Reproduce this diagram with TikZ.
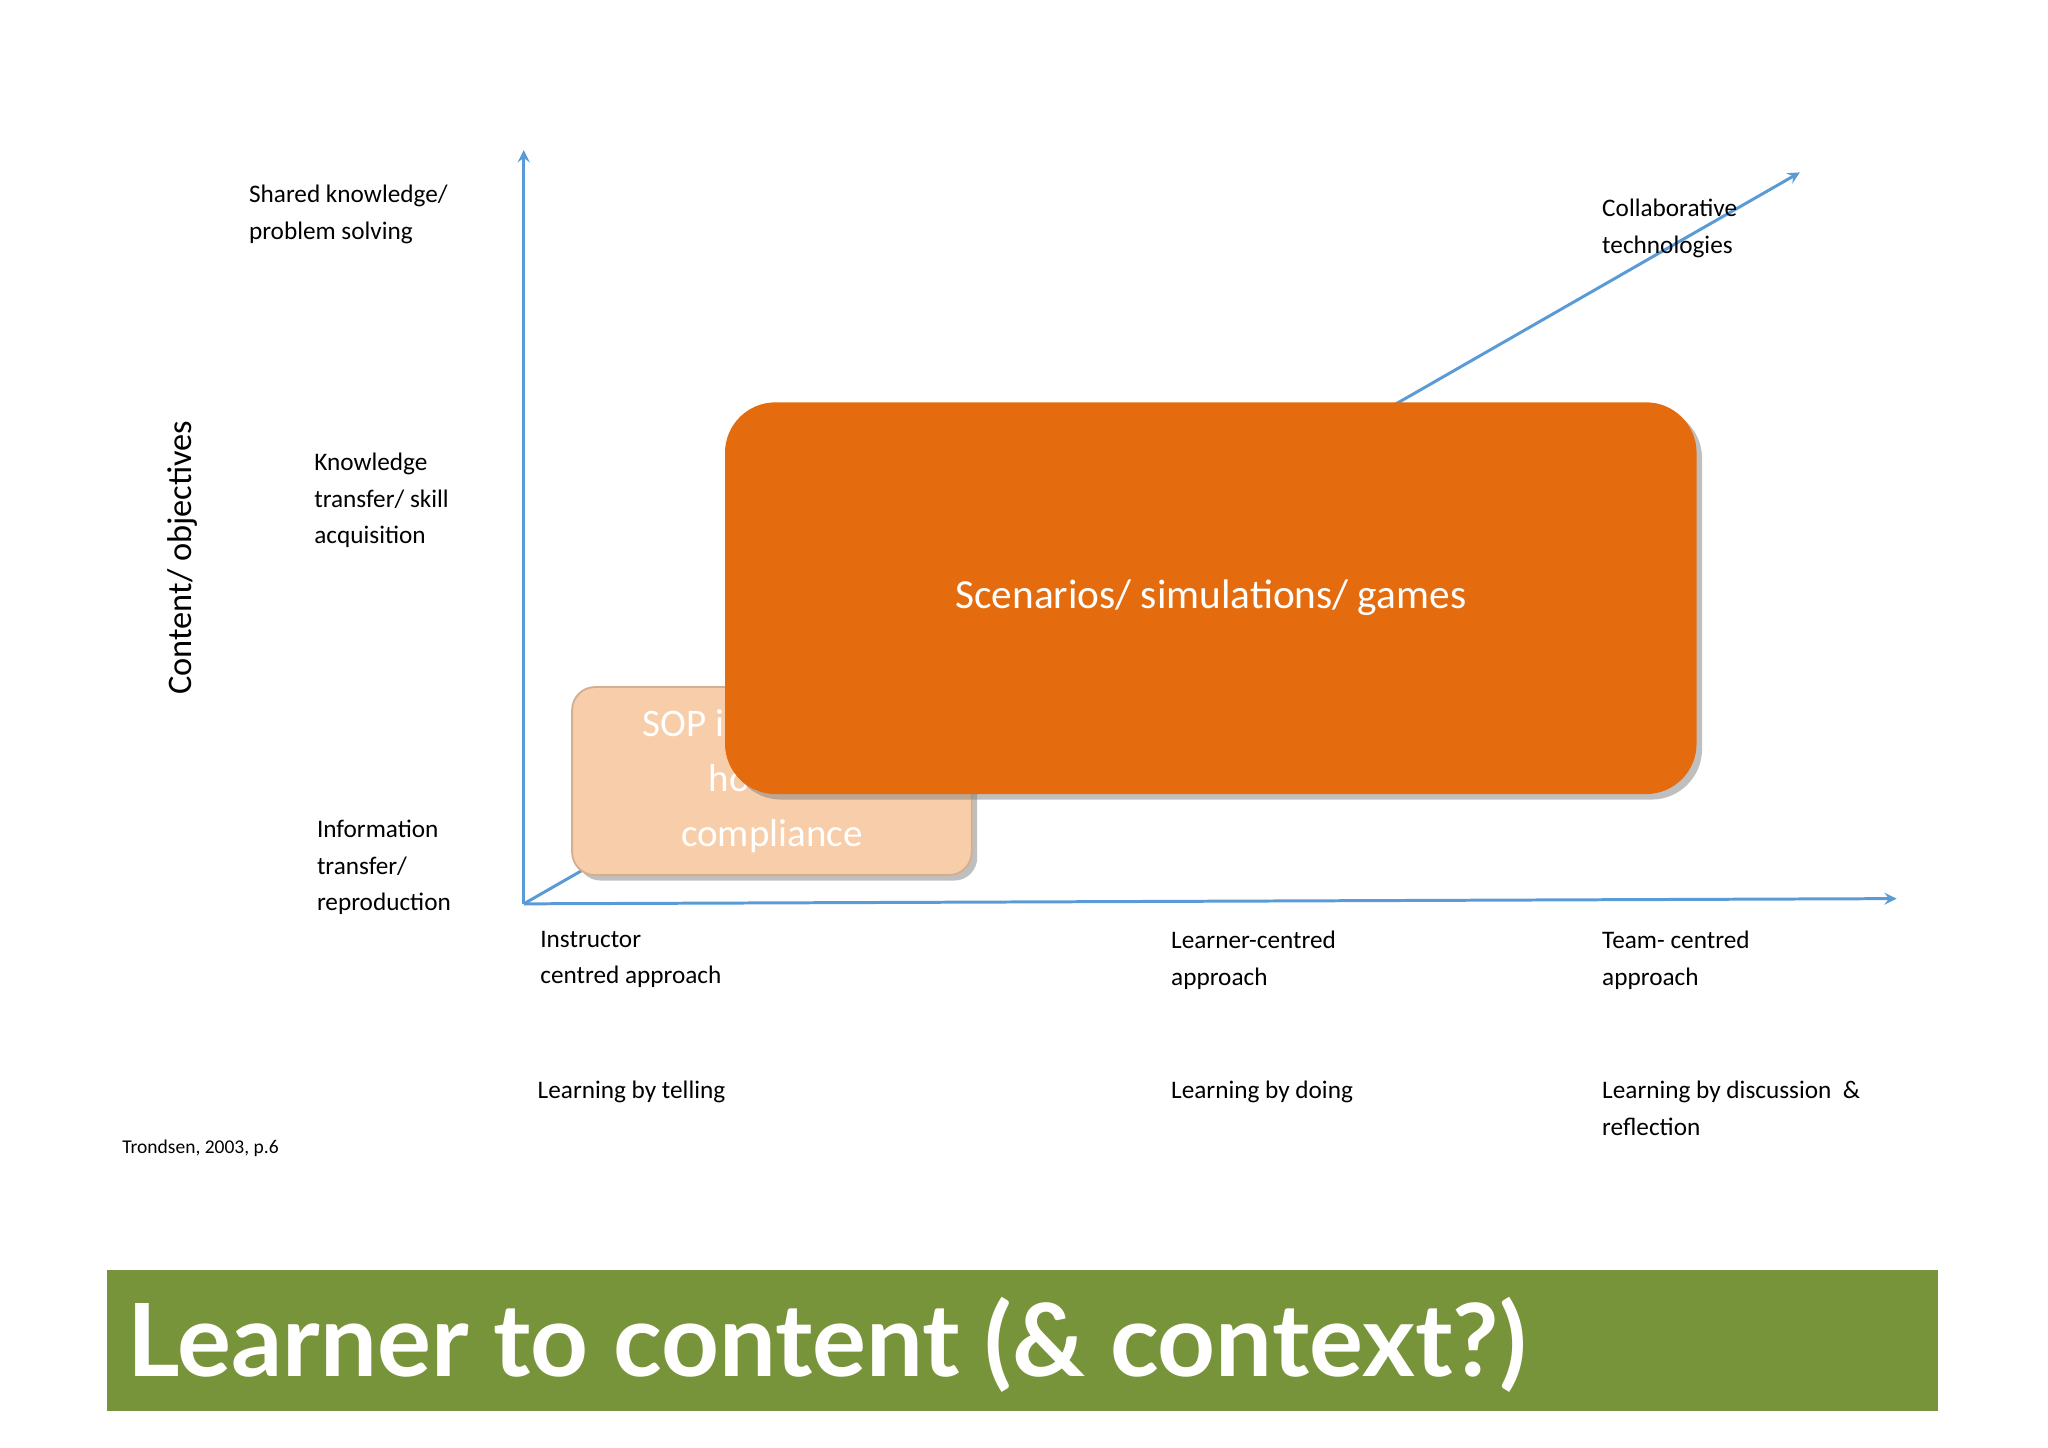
\documentclass[tikz,border=0pt]{standalone}
\usepackage{fontspec}
\setmainfont{Carlito}
\newfontfamily\titlefont{Lato}
\usetikzlibrary{positioning,shadows}
\definecolor{axisblue}{RGB}{91,155,213}
\definecolor{boxorange}{RGB}{228,108,14}
\definecolor{boxpeach}{RGB}{248,205,170}
\definecolor{bannergreen}{RGB}{120,148,58}
\begin{document}
\begin{tikzpicture}[x=0.02cm,y=-0.02cm,-,>=stealth,thick,
  axis label/.style={font=\fontsize{11}{16}\selectfont,align=left,anchor=north west,inner sep=0pt},
  box node/.style={rounded corners=22pt,text=white,align=center}]

  \useasboundingbox (0,0) rectangle (1568,1108);

  \coordinate (o) at (401,692);
  \coordinate (ytop) at (401,115);
  \coordinate (xend) at (1452,688);
  \coordinate (dend) at (1378,132);

  \draw[->,axisblue,line width=1.3pt] (o) -- (ytop);
  \draw[->,axisblue,line width=1.3pt] (o) -- (xend);
  \draw[->,axisblue,line width=1.3pt] (o) -- (dend);

  \node[axis label] (shared) at (190,141) {Shared knowledge/\\problem solving};
  \node[axis label] (transfer) at (240,346) {Knowledge\\transfer/ skill\\acquisition};
  \node[axis label] (info) at (242,627) {Information\\transfer/\\reproduction};
  \node[rotate=90,font=\fontsize{15}{18}\selectfont] (content) at (140,427) {Content/ objectives};
  \node[axis label] (collab) at (1226,152) {Collaborative\\technologies};

  \node[axis label] (instr) at (413,712) {Instructor\\centred approach};
  \node[axis label] (learner) at (896,712) {Learner-centred\\approach};
  \node[axis label] (team) at (1226,712) {Team- centred\\approach};
  \node[axis label] (telling) at (411,827) {Learning by telling};
  \node[axis label] (doing) at (896,827) {Learning by doing};
  \node[axis label] (discuss) at (1226,827) {Learning by discussion\ \ \&\\reflection};
  \node[axis label,font=\fontsize{8.5}{10}\selectfont] (cite) at (93,872) {Trondsen, 2003, p.6};

  \node[box node,fill=boxpeach,draw=boxpeach!85!black,rounded corners=10pt,
    font=\fontsize{17}{24}\selectfont,inner sep=0pt,drop shadow] (sop) at (591,598)
    {\parbox[c][2.88cm][c]{6.12cm}{\centering SOP instruction/\\how to/\\compliance}};

  \node[box node,fill=boxorange,inner sep=0pt,drop shadow,font=\fontsize{18}{22}\selectfont] (games) at (927,458)
    {\parbox[c][6cm][c]{14.88cm}{\centering Scenarios/ simulations/ games}};

  \fill[bannergreen] (82,972) rectangle (1484,1080);
  \node[anchor=west,text=white,font=\titlefont\bfseries\fontsize{44}{50}\selectfont,inner sep=0pt] (title) at (97,1030) {Learner to content (\& context?)};

\end{tikzpicture}
\end{document}
